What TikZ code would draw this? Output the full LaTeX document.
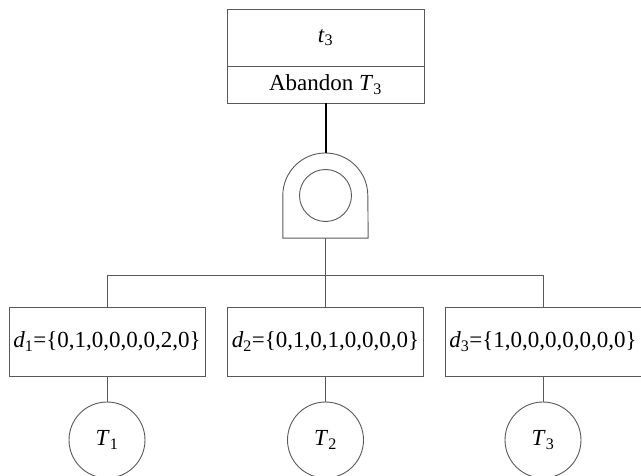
\documentclass[tikz,border=0pt]{standalone}
\usepackage{fontspec}
\setmainfont{Liberation Serif}
\begin{document}
\begin{tikzpicture}[x=1pt,y=1pt,
  txt/.style={font=\fontsize{23}{26}\selectfont},
  line/.style={draw=black!65, line width=0.9pt},
  box/.style={line, fill=white, inner sep=0pt, txt},
  vecbox/.style={box, minimum width=196pt, minimum height=69pt},
  leaf/.style={line, circle, fill=white, minimum size=76pt, inner sep=0pt, txt}]
\useasboundingbox (0,0) rectangle (641,475);

% event box: name and action
\node[box, minimum width=197pt, minimum height=57pt] (t3) at (325.5,437.5) {\textit{t}\textsubscript{3}};
\node[box, minimum width=197pt, minimum height=37pt] (ab) at (325.5,390.5) {Abandon \textit{T}\textsubscript{3}};

% gate: rounded top, flat base, inner circle
\node[minimum width=85pt, minimum height=85pt, inner sep=0pt] (gate) at (325.5,279.5) {};
\draw[line, fill=white] (gate.south west) -- (gate.west) arc[start angle=180, end angle=0, radius=42.5] -- (gate.south east) -- cycle;
\node[line, circle, minimum size=52pt, inner sep=0pt] (gc) at (gate.center) {};

\draw[black, line width=2pt] (ab.south) -- (gate.north);

% decision vectors
\node[vecbox] (d1) at (107,133.5) {\textit{d}\textsubscript{1}=\{0,1,0,0,0,0,2,0\}};
\node[vecbox] (d2) at (325.5,133.5) {\textit{d}\textsubscript{2}=\{0,1,0,1,0,0,0,0\}};
\node[vecbox] (d3) at (543,133.5) {\textit{d}\textsubscript{3}=\{1,0,0,0,0,0,0,0\}};

% tasks
\node[leaf] (T1) at (107,35) {\textit{T}\textsubscript{1}};
\node[leaf] (T2) at (325.5,35) {\textit{T}\textsubscript{2}};
\node[leaf] (T3) at (543,35) {\textit{T}\textsubscript{3}};

% bus from gate to the vectors
\coordinate (busL) at (107,200);
\coordinate (busR) at (543,200);
\draw[line] (busL) -- (busR);
\draw[line] (gate.south) -- (d2.north);
\draw[line] (busL) -- (d1.north);
\draw[line] (busR) -- (d3.north);

\draw[line] (d1.south) -- (T1.north);
\draw[line] (d2.south) -- (T2.north);
\draw[line] (d3.south) -- (T3.north);
\end{tikzpicture}
\end{document}
